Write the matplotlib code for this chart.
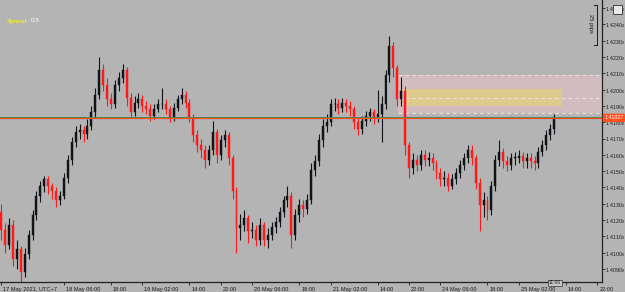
import matplotlib
matplotlib.use("Agg")
import matplotlib.pyplot as plt
from matplotlib.patches import Rectangle
from matplotlib.lines import Line2D
import matplotlib.transforms as mtransforms

plt.rcParams["font.family"] = ["Liberation Sans", "DejaVu Sans"]

# hourly bars starting 17 May 2021 14:00 (UTC+7), weekend gap removed
first_open = 1.4125
closes = [
    1.4114, 1.4105, 1.4117, 1.4096, 1.4102, 1.4088, 1.4099, 1.4111, 1.4123, 1.4135,
    1.4141, 1.4145, 1.4141, 1.4138, 1.4132, 1.4135, 1.4146, 1.4157, 1.4168, 1.4174,
    1.4175, 1.4173, 1.4178, 1.4186, 1.4197, 1.4212, 1.4203, 1.4194, 1.4191, 1.4203,
    1.4207, 1.4212, 1.4195, 1.4186, 1.4192, 1.4194, 1.4190, 1.4188, 1.4184, 1.4188,
    1.4191, 1.4191, 1.4188, 1.4183, 1.4189, 1.4194, 1.4197, 1.4192, 1.4183, 1.4172,
    1.4166, 1.4163, 1.4157, 1.4163, 1.4174, 1.4160, 1.4169, 1.4172, 1.4158, 1.4138,
    1.4115, 1.4117, 1.4121, 1.4113, 1.4114, 1.4108, 1.4117, 1.4108, 1.4111, 1.4116,
    1.4119, 1.4125, 1.4132, 1.4135, 1.4111, 1.4123, 1.4129, 1.4127, 1.4132, 1.4151,
    1.4156, 1.4169, 1.4178, 1.4180, 1.4191, 1.4191, 1.4189, 1.4192, 1.4190, 1.4188,
    1.4180, 1.4176, 1.4181, 1.4184, 1.4186, 1.4183, 1.4185, 1.4191, 1.4209, 1.4227,
    1.4213, 1.4194, 1.4199, 1.4166, 1.4152, 1.4157, 1.4154, 1.4160, 1.4157, 1.4158,
    1.4155, 1.4149, 1.4145, 1.4146, 1.4141, 1.4145, 1.4149, 1.4154, 1.4158, 1.4163,
    1.4158, 1.4143, 1.4129, 1.4132, 1.4126, 1.4141, 1.4157, 1.4162, 1.4156, 1.4154,
    1.4158, 1.4158, 1.4159, 1.4156, 1.4158, 1.4156, 1.4155, 1.4162, 1.4166, 1.4172,
    1.4176, 1.4183,
]
highs = [
    1.4130, 1.4118, 1.4121, 1.4120, 1.4108, 1.4104, 1.4103, 1.4114, 1.4126, 1.4138,
    1.4144, 1.4147, 1.4147, 1.4143, 1.4140, 1.4138, 1.4149, 1.4160, 1.4171, 1.4178,
    1.4179, 1.4178, 1.4182, 1.4190, 1.4201, 1.4220, 1.4216, 1.4207, 1.4198, 1.4206,
    1.4211, 1.4216, 1.4214, 1.4198, 1.4196, 1.4198, 1.4197, 1.4193, 1.4191, 1.4191,
    1.4194, 1.4201, 1.4194, 1.4190, 1.4192, 1.4197, 1.4201, 1.4199, 1.4194, 1.4185,
    1.4175, 1.4170, 1.4166, 1.4166, 1.4181, 1.4176, 1.4172, 1.4175, 1.4174, 1.4160,
    1.4140, 1.4124, 1.4126, 1.4123, 1.4119, 1.4117, 1.4121, 1.4119, 1.4115, 1.4119,
    1.4122, 1.4128, 1.4135, 1.4141, 1.4137, 1.4127, 1.4133, 1.4132, 1.4136, 1.4155,
    1.4160, 1.4173, 1.4182, 1.4185, 1.4194, 1.4195, 1.4194, 1.4195, 1.4194, 1.4193,
    1.4190, 1.4183, 1.4184, 1.4187, 1.4189, 1.4188, 1.4200, 1.4196, 1.4212, 1.4233,
    1.4229, 1.4215, 1.4208, 1.4202, 1.4168, 1.4161, 1.4160, 1.4163, 1.4163, 1.4162,
    1.4161, 1.4157, 1.4152, 1.4150, 1.4149, 1.4148, 1.4152, 1.4157, 1.4161, 1.4166,
    1.4166, 1.4160, 1.4146, 1.4137, 1.4135, 1.4144, 1.4160, 1.4169, 1.4164, 1.4159,
    1.4161, 1.4162, 1.4163, 1.4162, 1.4161, 1.4161, 1.4159, 1.4165, 1.4169, 1.4175,
    1.4179, 1.4185,
]
lows = [
    1.4108, 1.4100, 1.4102, 1.4092, 1.4090, 1.4082, 1.4085, 1.4096, 1.4108, 1.4120,
    1.4131, 1.4137, 1.4136, 1.4133, 1.4128, 1.4129, 1.4133, 1.4143, 1.4154, 1.4165,
    1.4170, 1.4168, 1.4170, 1.4175, 1.4183, 1.4194, 1.4199, 1.4190, 1.4188, 1.4189,
    1.4199, 1.4204, 1.4190, 1.4183, 1.4184, 1.4189, 1.4186, 1.4185, 1.4181, 1.4182,
    1.4186, 1.4188, 1.4185, 1.4180, 1.4181, 1.4187, 1.4191, 1.4189, 1.4180, 1.4168,
    1.4162, 1.4158, 1.4152, 1.4154, 1.4160, 1.4155, 1.4157, 1.4165, 1.4154, 1.4133,
    1.4100, 1.4108, 1.4113, 1.4106, 1.4109, 1.4104, 1.4105, 1.4104, 1.4103, 1.4108,
    1.4112, 1.4116, 1.4122, 1.4128, 1.4103, 1.4108, 1.4119, 1.4122, 1.4124, 1.4130,
    1.4147, 1.4153, 1.4165, 1.4174, 1.4178, 1.4187, 1.4185, 1.4186, 1.4186, 1.4184,
    1.4176, 1.4172, 1.4173, 1.4178, 1.4181, 1.4179, 1.4180, 1.4168, 1.4188, 1.4205,
    1.4208, 1.4190, 1.4190, 1.4160, 1.4146, 1.4148, 1.4150, 1.4151, 1.4153, 1.4153,
    1.4151, 1.4145, 1.4141, 1.4141, 1.4138, 1.4139, 1.4142, 1.4146, 1.4151, 1.4155,
    1.4154, 1.4139, 1.4113, 1.4122, 1.4120, 1.4123, 1.4138, 1.4153, 1.4152, 1.4150,
    1.4151, 1.4154, 1.4155, 1.4152, 1.4152, 1.4152, 1.4151, 1.4152, 1.4159, 1.4163,
    1.4169, 1.4173,
]

tick_hours = [0, 16, 28, 36, 48, 56, 64, 76, 84, 96, 104, 112, 124, 132, 144, 152]
tick_labels = ["17 May 2021, UTC+7", "18 May 06:00", "18:00", "19 May 02:00", "14:00",
               "22:00", "20 May 06:00", "18:00", "21 May 02:00", "14:00", "22:00",
               "24 May 06:00", "18:00", "25 May 02:00", "14:00", "22:00"]
price_ticks = [1.409, 1.410, 1.411, 1.412, 1.413, 1.414, 1.415, 1.416, 1.417, 1.418,
               1.419, 1.420, 1.421, 1.422, 1.423, 1.424, 1.425]

bid = 1.41827
zone_outer = (1.41857, 1.42090)
zone_inner = (1.41899, 1.42004)
zone_mid = 1.41948

bg = "#b4b4b4"
W, H = 625, 292
fig = plt.figure(figsize=(W / 100, H / 100), dpi=100, facecolor=bg)
ax = fig.add_axes([0, 10 / H, 602 / W, 282 / H], facecolor=bg)
ax.set_xlim(-0.3, 153.2)
ax.set_ylim(1.4082, 1.4255)

# zones
ax.add_patch(Rectangle((101.3, zone_outer[0]), 60, zone_outer[1] - zone_outer[0],
                       facecolor="#d2bcbf", edgecolor="none", zorder=1))
ax.add_patch(Rectangle((102.5, zone_inner[0]), 40.5, zone_inner[1] - zone_inner[0],
                       facecolor="#dccb8c", edgecolor="none", zorder=1.1))
for lvl in (zone_outer[0], zone_outer[1], zone_mid):
    ax.plot([101.3, 160], [lvl, lvl], color="#ece0e0", lw=0.7, ls=(0, (4, 3)), zorder=1.2)

# candles
opens = [first_open] + closes[:-1]
for i, (o, c, hi, lo) in enumerate(zip(opens, closes, highs, lows)):
    col = "#101418" if c >= o else "#ff1a1a"
    ax.vlines(i, lo, hi, color=col, lw=0.8, zorder=3)
    ax.bar(i, max(abs(c - o), 0.00004), bottom=min(o, c), width=0.5,
           color=col, edgecolor=col, lw=0.3, zorder=3)

# bid lines
ax.axhline(bid + 0.00008, color="#3d8a5a", lw=0.7, zorder=4)
ax.axhline(bid, color="#ff5020", lw=0.9, zorder=4)

# axes styling
for s in ("top", "left"):
    ax.spines[s].set_visible(False)
for s in ("right", "bottom"):
    ax.spines[s].set_color("#202020")
    ax.spines[s].set_linewidth(0.9)
ax.yaxis.tick_right()
ax.set_yticks(price_ticks)
ax.set_yticklabels([f"{v:.4f}" + r"$_{\mathregular{0}}$" for v in price_ticks])
ax.set_xticks(tick_hours)
ax.set_xticklabels(tick_labels)
ax.tick_params(axis="x", length=2.5, width=0.6, color="#202020", labelsize=4.1,
               labelcolor="#1a1a1a", pad=0.8)
ax.tick_params(axis="y", length=2, width=0.6, color="#202020", labelsize=3.8,
               labelcolor="#1a1a1a", pad=0.4)
for lab in ax.get_xticklabels():
    lab.set_ha("left")
    lab.set_transform(lab.get_transform() + mtransforms.ScaledTranslation(2 / 100, 0, fig.dpi_scale_trans))

# current price tag
trans = mtransforms.blended_transform_factory(ax.transAxes, ax.transData)
ax.text(1.004, bid, "1.41827", transform=trans, fontsize=3.8, color="white",
        va="center", ha="left", zorder=6, clip_on=False,
        bbox=dict(boxstyle="round,pad=0.2", fc="#ff5020", ec="#ff5020"))

# overlay texts
fig.text(7 / W, 1 - 21 / H, "Spread:", color="#ffff00", fontsize=4.6, va="center")
fig.text(31 / W, 1 - 21 / H, "0.5", color="white", fontsize=4.6, va="center")
fig.text(591 / W, 1 - 24 / H, "25 pips", color="#1a1a1a", fontsize=4.2, rotation=270,
         va="center", ha="center")
fig.add_artist(Line2D([597 / W, 597 / W], [1 - 5 / H, 1 - 45 / H], color="#1a1a1a", lw=0.7))
fig.add_artist(Line2D([594 / W, 597 / W], [1 - 5 / H, 1 - 5 / H], color="#1a1a1a", lw=0.7))
fig.add_artist(Line2D([594 / W, 597 / W], [1 - 45 / H, 1 - 45 / H], color="#1a1a1a", lw=0.7))
fig.add_artist(Rectangle((613 / W, 1 - 14 / H), 9 / W, 9 / H, transform=fig.transFigure,
                         facecolor="#e8e8e8", edgecolor="#303030", lw=0.6))
fig.text(555 / W, 1 - 283 / H, "11:00", fontsize=3.6, color="#1a1a1a", ha="center", va="center",
         bbox=dict(boxstyle="square,pad=0.15", fc="#c8c8c8", ec="#303030", lw=0.5))

fig.savefig("out.png", dpi=100, facecolor=bg)
